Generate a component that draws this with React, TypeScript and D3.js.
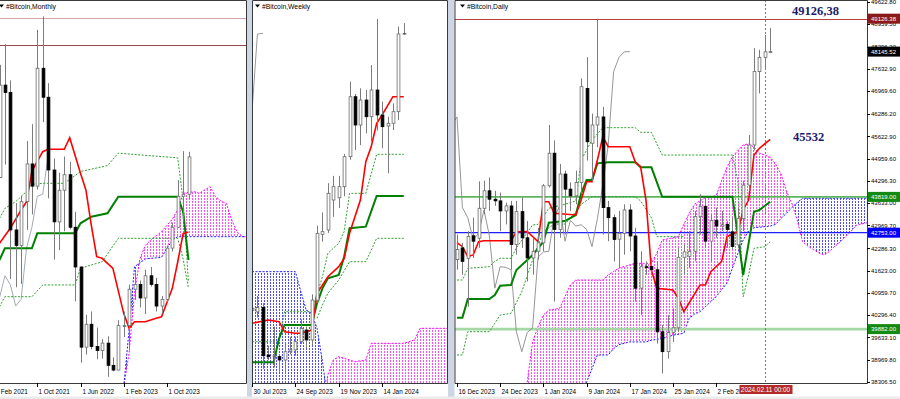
import React from 'react';
import * as d3 from 'd3';

type Pt = [number, number];
type OHLC = [number, number, number, number];

// ---------- Monthly (index 0 = Jan 2021) ----------
const monthlyStart = 1;
const monthlyCandles: OHLC[] = [
  [33100, 58300, 32300, 45100], [45100, 61800, 45000, 58800], [58800, 64900, 47000, 57700],
  [57700, 59500, 30000, 37300], [37300, 41300, 28800, 35000], [35000, 42400, 29300, 41500],
  [41500, 50500, 37300, 47100], [47100, 53000, 39600, 43800], [43800, 67000, 43300, 61300],
  [61300, 69000, 53300, 57000], [57000, 59100, 42000, 46200], [46200, 47900, 32900, 38500],
  [38500, 45800, 34300, 43200], [43200, 48200, 37100, 45500], [45500, 47400, 37400, 37700],
  [37700, 40000, 26700, 31800], [31800, 31900, 17600, 19900], [19900, 24700, 18800, 23300],
  [23300, 25200, 19600, 20000], [20000, 22800, 18100, 19400], [19400, 21100, 18200, 20500],
  [20500, 21500, 15500, 17200], [17200, 18400, 16300, 16500], [16500, 23900, 16500, 23100],
  [23100, 25200, 21400, 23100], [23100, 29200, 19500, 28500], [28500, 31000, 26900, 29200],
  [29200, 29800, 25800, 27200], [27200, 31400, 24800, 30500], [30500, 31800, 28900, 29200],
  [29200, 30200, 25200, 26000], [26000, 27500, 24900, 27000], [27000, 35000, 26500, 34600],
  [34600, 38400, 34100, 37700], [37700, 44700, 37600, 42300], [42300, 49000, 38500, 42600],
  [42600, 48900, 41900, 48145],
];
const monthlyTenkan: Pt[] = [
  [2, 35317], [4, 37544], [6, 40261], [7, 41500], [8, 46000], [10, 48917], [11, 49273], [14, 49273],
  [15, 50996], [17, 45710], [18, 43230], [19, 38000], [20, 33327], [21, 33090], [23, 31604],
  [25, 24923], [26, 22696], [27, 23676], [29, 23676], [31, 24180], [32, 24418], [34, 28634],
  [35, 32537], [36, 36739], [37, 36992],
];
const monthlyKijun: Pt[] = [
  [2, 32837], [3, 34574], [8, 34574], [9, 36802], [16, 36802], [17, 38286], [19, 39270],
  [22, 39770], [24, 42235], [35, 42235], [36, 40000], [37, 32837],
];
const monthlyDotUpper: Pt[] = [
  [2, 39000], [3, 40500], [5, 41500], [7, 43000], [8, 44076], [10, 44224], [14, 44224],
  [17, 45965], [22, 46856], [24, 48697], [35, 48000], [36, 41746], [37, 29500],
];
const monthlyDotLower: Pt[] = [
  [2, 25903], [3, 27388], [8, 27388], [10, 29130], [16, 29130], [17, 31604], [21, 32585],
  [24, 36058], [35, 36058], [36, 33000], [37, 28634],
];
const monthlySpanA: Pt[] = [
  [25, 14000], [26, 19000], [27, 28000], [28, 33000], [29, 35000], [30, 35800], [32, 37040],
  [34, 38900], [35, 40261], [36, 42740], [38, 42978], [39, 42740], [41, 43720], [42, 42235],
  [43, 41600], [44, 41256], [45, 38780], [46, 37000], [47, 36300], [48, 36300],
];
const monthlySpanB: Pt[] = [
  [25, 14000], [26, 22450], [27, 31845], [29, 33000], [32, 33237], [34, 35800], [35, 36300], [48, 36300],
];
const monthlyLevels = [68767, 64760];
const monthlyDates: [number, string][] = [
  [1, '1 Feb 2021'], [9, '1 Oct 2021'], [17, '1 Jun 2022'], [25, '1 Feb 2023'], [33, '1 Oct 2023'],
];

// ---------- Weekly (index 0 = 30 Jul 2023) ----------
const weeklyCandles: OHLC[] = [
  [29200, 29700, 28600, 29350], [29100, 30200, 28700, 29400], [29400, 29700, 25200, 26100],
  [26150, 26800, 25800, 26040], [26040, 28100, 25300, 26100], [26040, 26200, 25000, 25810],
  [25810, 27000, 24900, 26377], [26400, 27400, 26200, 26500], [26500, 27400, 26100, 27060],
  [27060, 28600, 26900, 27977], [27860, 28100, 26600, 27180], [27180, 30300, 26800, 29910],
  [29900, 35000, 29700, 34473], [34400, 35900, 33900, 34585], [34700, 37900, 34500, 37207],
  [36750, 38400, 35600, 37660], [36900, 38400, 36200, 37660], [37660, 39900, 37000, 39710],
  [39710, 44840, 39500, 43813], [43813, 44000, 40169, 41878], [41878, 44390, 40500, 43587],
  [43587, 44271, 41310, 42445], [42445, 45980, 40750, 44271], [44271, 49126, 41500, 42562],
  [42562, 43470, 40285, 41762], [41810, 42445, 38575, 41995], [41995, 43360, 41540, 42788],
  [42788, 48600, 42220, 48100], [48100, 48850, 48035, 48145],
];
const weeklyTenkan: Pt[] = [
  [0, 28318], [3, 28545], [5, 28430], [6, 27745], [8, 27635], [9, 27635], [11, 27860],
  [12, 30370], [14, 31505], [16, 32190], [17, 32760], [18, 34473], [20, 36750], [21, 39370],
  [22, 40400], [23, 41995], [24, 42560], [26, 43813], [28, 43813],
];
const weeklyKijun: Pt[] = [
  [0, 25651], [4, 25651], [5, 27293], [6, 28203], [11, 28203], [12, 29686], [13, 30712],
  [14, 31396], [16, 31620], [17, 32873], [18, 34815], [21, 34925], [23, 37023], [28, 37023],
];
const weeklyDotUpper: Pt[] = [
  [0, 27060], [5, 27060], [6, 29113], [11, 29113], [13, 31505], [14, 33106], [16, 33790],
  [17, 34582], [18, 37207], [21, 37207], [23, 39875], [28, 39875],
];
const weeklyDotLower: Pt[] = [
  [12, 28660], [13, 29570], [14, 30370], [16, 31280], [18, 32530], [21, 32530], [23, 34130], [28, 34130],
];
const weeklySpanA: Pt[] = [
  [0, 22000], [13, 22000], [14, 24800], [15, 25810], [16, 26040], [18, 25810], [19, 25694],
  [21, 25810], [22, 26950], [28, 26950], [30, 27180], [31, 27977], [37, 27977],
];
const weeklySpanB: Pt[] = [
  [0, 31850], [8, 31850], [9, 30500], [10, 29228], [11, 29000], [12, 27977], [13, 25700],
  [14, 23000], [15, 22000], [37, 22000],
];
const weeklyDates: [number, string][] = [
  [0, '30 Jul 2023'], [8, '24 Sep 2023'], [16, '19 Nov 2023'], [24, '14 Jan 2024'],
];

// ---------- Daily (index 0 = 16 Dec 2023) ----------
const dailyCandles: OHLC[] = [
  [41950, 42700, 41650, 42250], [42300, 42450, 41500, 41900], [41990, 42800, 40550, 42640],
  [42660, 43200, 42000, 42500], [42590, 44280, 42300, 43480], [43480, 44300, 43300, 44000],
  [44000, 44400, 43400, 43750], [43750, 44000, 43550, 43700], [43700, 43950, 42800, 43400],
  [43400, 43650, 43000, 43550], [43550, 43700, 41650, 42400], [42400, 43700, 42100, 43380],
  [43380, 43800, 42300, 42600], [42600, 43100, 41300, 42000], [42000, 42600, 41500, 42200],
  [42200, 42900, 41950, 42450], [42450, 44200, 42200, 44150], [44150, 45960, 44100, 45120],
  [45120, 45500, 40700, 42850], [42850, 44800, 42600, 44500], [44500, 44600, 42700, 44050],
  [44050, 44250, 43400, 43850], [43850, 44600, 43600, 44250], [44250, 47350, 43900, 47100],
  [47050, 47980, 44900, 45460], [45415, 46300, 44300, 45960], [45960, 49126, 45300, 46200],
  [46200, 46500, 42700, 43500], [43500, 43700, 42500, 43200], [43200, 43300, 41900, 42550],
  [42560, 43400, 41700, 42735], [42735, 43600, 42100, 43430], [43430, 43600, 42200, 42655],
  [42655, 42900, 40700, 41100], [41100, 42200, 40300, 41740], [41740, 41900, 41500, 41720],
  [41750, 42000, 41500, 41650], [41650, 41900, 39450, 39800], [39800, 40000, 38565, 39210],
  [39210, 40300, 39000, 39780], [39780, 40500, 39500, 39920], [39920, 42300, 39800, 42020],
  [42020, 42400, 41500, 42180], [42050, 42800, 41700, 42200], [42200, 43400, 41900, 43230],
  [43230, 43900, 42700, 43540], [43540, 43800, 42300, 42500], [42500, 43300, 41900, 43120],
  [43120, 43500, 42600, 42950], [42950, 43400, 42800, 42990], [43000, 43100, 42300, 42850],
  [42780, 43200, 42250, 42340], [42390, 43500, 42300, 43170], [43170, 44300, 42800, 44170],
  [44170, 45662, 44000, 45365], [45365, 48250, 45200, 47550], [47550, 48200, 46900, 47975],
  [47975, 48640, 47600, 48140], [48140, 48850, 48100, 48145],
];
const dailyTenkan: Pt[] = [
  [0, 42455], [1, 42336], [2, 42040], [3, 42090], [4, 42485], [5, 42515], [10, 42515],
  [11, 42780], [13, 42790], [15, 42485], [16, 43676], [17, 43676], [18, 43330], [22, 43280],
  [23, 43726], [24, 44270], [25, 44270], [26, 44917], [27, 45612], [28, 45314], [32, 45314],
  [33, 44866], [34, 44717], [35, 43726], [36, 41642], [37, 41097], [40, 41046], [41, 40799],
  [42, 40400], [45, 41195], [46, 41195], [47, 41592], [49, 41890], [50, 42634], [52, 42783],
  [53, 43430], [54, 43726], [55, 45066], [56, 45265], [58, 45534],
];
const dailyKijun: Pt[] = [
  [0, 40223], [1, 40223], [2, 40778], [6, 40778], [7, 40897], [8, 41175], [10, 41195],
  [11, 41642], [13, 41940], [14, 42090], [16, 42485], [17, 43052], [20, 43101], [22, 43280],
  [23, 43925], [24, 44322], [25, 44322], [26, 44818], [28, 44848], [33, 44848], [34, 44700],
  [36, 44700], [38, 43824], [51, 43824], [52, 42700], [53, 41493], [54, 42435], [55, 43378],
  [56, 43428], [58, 43676],
];
const dailyDotUpper: Pt[] = [
  [0, 41344], [1, 41344], [2, 41692], [6, 41741], [7, 41900], [8, 41990], [10, 41990],
  [11, 42300], [14, 42982], [15, 43000], [17, 43480], [20, 43600], [22, 43700], [23, 44917],
  [25, 45513], [27, 45880], [33, 45880], [34, 45742], [36, 45742], [38, 45066], [51, 45066],
  [52, 44322], [53, 40847], [54, 41493], [55, 42288], [57, 42336], [58, 42485],
];
const dailyDotLower: Pt[] = [
  [0, 39111], [1, 39111], [2, 39805], [6, 39805], [7, 40054], [8, 40300], [10, 40352],
  [12, 40995], [14, 41940], [16, 42783], [18, 43010], [20, 43010], [22, 43378], [23, 43600],
  [25, 43824], [33, 43824], [34, 43700], [36, 43200], [37, 42634], [42, 42634],
];
const dailySpanA: Pt[] = [
  [13, 38300], [14, 39500], [15, 39950], [16, 40300], [17, 40450], [19, 40500], [20, 40847],
  [21, 41200], [22, 41344], [27, 41344], [28, 41500], [29, 41600], [30, 41700], [33, 41840],
  [36, 41840], [37, 42139], [38, 42535], [41, 42634], [42, 43000], [43, 43330], [44, 43600],
  [45, 43700], [46, 43800], [48, 43850], [49, 44296], [50, 44700], [51, 45017], [52, 45200],
  [53, 45365], [54, 45400], [55, 45300], [56, 45120], [57, 45066], [58, 45000], [59, 44800],
  [60, 44500], [61, 44000], [62, 43630], [63, 43130], [64, 42485], [65, 42350], [66, 42250],
  [67, 42150], [68, 42090], [69, 42200], [70, 42350], [71, 42485], [72, 42650], [73, 42800],
  [74, 42980], [76, 43050],
];
const dailySpanB: Pt[] = [
  [13, 37500], [23, 37500], [24, 38300], [25, 38700], [26, 39111], [28, 39111], [29, 39300],
  [30, 39420], [31, 39460], [32, 39500], [35, 39500], [36, 39550], [38, 39600], [39, 39650],
  [40, 39700], [42, 39757], [43, 40200], [44, 40330], [45, 40400], [46, 40550], [47, 40700],
  [48, 40850], [49, 41050], [50, 41250], [51, 41700], [52, 42130], [53, 42535], [54, 42800],
  [55, 42900], [58, 42950], [59, 43000], [60, 43180], [61, 43330], [62, 43500], [63, 43650],
  [64, 43780], [76, 43780],
];
const dailyDates: [number, string][] = [
  [0, '16 Dec 2023'], [8, '24 Dec 2023'], [16, '1 Jan 2024'], [24, '9 Jan 2024'],
  [32, '17 Jan 2024'], [40, '25 Jan 2024'], [48, '2 Feb 2024'],
];
const dailyPriceTicks = [
  '49622.80', '48959.50', '48296.20', '47632.90', '46969.60', '46286.20', '45622.90', '44959.60',
  '44296.30', '43633.00', '42969.70', '42286.30', '41623.00', '40959.70', '40296.40', '39633.10',
  '38969.80', '38306.50',
];
// resistance, last price, weekly tenkan, level, weekly dotted
const dailyMarks = [49126.38, 48145.52, 43819.0, 42753.0, 39882.0];
const dailyCursorIndex = 57;
const dailyCursorLabel = '2024.02.11 00:00';
const noteTop = '49126,38';
const noteMid = '45532';

const CHIKOU_SHIFT = 26;
const AXIS_Y = 383;
const FONT = '"Liberation Sans", Arial, sans-serif';

const mX = d3.scaleLinear().domain([0, 37]).range([-11.3, -11.3 + 37 * 5.4]);
const mY = d3.scaleLinear().domain([15500, 69000]).range([376.8, 16.4]);
const wX = d3.scaleLinear().domain([0, 28]).range([252, 252 + 28 * 5.42]);
const wY = d3.scaleLinear().domain([24900, 49126]).range([373.3, 19]);
const dX = d3.scaleLinear().domain([0, 58]).range([457, 457 + 58 * 5.4]);
const dY = d3.scaleLinear().domain([38306.5, 49622.8]).range([382, 2]);

type Sc = d3.ScaleLinear<number, number>;

const lineD = (pts: Pt[], x: Sc, y: Sc) =>
  d3.line<Pt>().x((d) => x(d[0])).y((d) => y(d[1]))(pts) || '';

const chikou = (data: OHLC[], start: number): Pt[] =>
  data.map((c, i) => [start + i - CHIKOU_SHIFT, c[3]] as Pt);

function Candles({ data, start, x, y }: { data: OHLC[]; start: number; x: Sc; y: Sc }) {
  return (
    <g>
      {data.map(([o, h, l, c], i) => {
        const cx = Math.round(x(start + i)) + 0.5;
        const up = c >= o;
        const top = y(Math.max(o, c));
        const bot = y(Math.min(o, c));
        return (
          <g key={i}>
            <line x1={cx} x2={cx} y1={y(h)} y2={y(l)} stroke="#7c7c7c" strokeWidth={1} />
            <rect
              x={cx - 1.4}
              y={top}
              width={2.8}
              height={Math.max(bot - top, 0.8)}
              fill={up ? '#ffffff' : '#000000'}
              stroke={up ? '#6a6a6a' : '#000000'}
              strokeWidth={0.8}
            />
          </g>
        );
      })}
    </g>
  );
}

function Cloud({ id, a, b, x, y }: { id: string; a: Pt[]; b: Pt[]; x: Sc; y: Sc }) {
  const area = (pts: Pt[], y0: number) =>
    d3.area<Pt>().x((d) => x(d[0])).y0(y0).y1((d) => y(d[1]))(pts) || '';
  return (
    <g>
      <defs>
        <clipPath id={`${id}-ba`}><path d={area(a, 600)} /></clipPath>
        <clipPath id={`${id}-aa`}><path d={area(a, -200)} /></clipPath>
        <clipPath id={`${id}-bb`}><path d={area(b, 600)} /></clipPath>
        <clipPath id={`${id}-ab`}><path d={area(b, -200)} /></clipPath>
      </defs>
      <g clipPath={`url(#${id}-ba)`}>
        <rect x={-20} y={-20} width={960} height={440} fill="url(#hatchM)" clipPath={`url(#${id}-ab)`} />
      </g>
      <g clipPath={`url(#${id}-bb)`}>
        <rect x={-20} y={-20} width={960} height={440} fill="url(#hatchB)" clipPath={`url(#${id}-aa)`} />
      </g>
      <path d={lineD(a, x, y)} fill="none" stroke="#ff00ff" strokeWidth={1} strokeDasharray="2 1.5" />
      <path d={lineD(b, x, y)} fill="none" stroke="#1c1cff" strokeWidth={1} strokeDasharray="2 1.5" />
    </g>
  );
}

function Ichimoku({ tenkan, kijun, up, low, x, y }: { tenkan: Pt[]; kijun: Pt[]; up: Pt[]; low: Pt[]; x: Sc; y: Sc }) {
  return (
    <g fill="none">
      <path d={lineD(up, x, y)} stroke="#2ea02e" strokeWidth={1} strokeDasharray="2 1.5" />
      <path d={lineD(low, x, y)} stroke="#2ea02e" strokeWidth={1} strokeDasharray="2 1.5" />
      <path d={lineD(kijun, x, y)} stroke="#008000" strokeWidth={2} />
      <path d={lineD(tenkan, x, y)} stroke="#ff0000" strokeWidth={1.6} />
    </g>
  );
}

function Title({ x, text }: { x: number; text: string }) {
  return (
    <g>
      <path d={`M${x} 4.5 h5 l-2.5 3 z`} fill="#000" />
      <text x={x + 7} y={8.5} fontSize={6.8} fontFamily={FONT} fill="#000">{text}</text>
    </g>
  );
}

function DateAxis({ dates, x }: { dates: [number, string][]; x: Sc }) {
  return (
    <g>
      {dates.map(([i, s]) => {
        const px = Math.round(x(i)) + 0.5;
        return (
          <g key={s}>
            <line x1={px} x2={px} y1={AXIS_Y} y2={AXIS_Y + 4} stroke="#000" />
            <text x={px + 1} y={393.5} fontSize={6.4} fontFamily={FONT} fill="#000">{s}</text>
          </g>
        );
      })}
    </g>
  );
}

export default function App() {
  const markStyle = [
    { bg: '#8b1a1a' }, { bg: '#000000' }, { bg: '#138a13' }, { bg: '#0000ff' }, { bg: '#138a13' },
  ];
  const cursorX = Math.round(dX(dailyCursorIndex)) + 0.5;
  return (
    <svg width={900} height={399} style={{ position: 'absolute', left: 0, top: 0 }} fontFamily={FONT}>
      <defs>
        <pattern id="hatchM" patternUnits="userSpaceOnUse" width={3} height={3}>
          <rect x={0} y={0} width={1} height={2} fill="#ff4dff" />
        </pattern>
        <pattern id="hatchB" patternUnits="userSpaceOnUse" width={3} height={3}>
          <rect x={0} y={0} width={1} height={2} fill="#4d4dff" />
        </pattern>
        <clipPath id="clipP1"><rect x={0} y={0} width={246} height={AXIS_Y} /></clipPath>
        <clipPath id="clipP2"><rect x={252} y={0} width={195} height={AXIS_Y} /></clipPath>
        <clipPath id="clipP3"><rect x={455} y={0} width={412} height={AXIS_Y} /></clipPath>
        <clipPath id="clipA1"><rect x={0} y={AXIS_Y} width={246} height={16} /></clipPath>
        <clipPath id="clipA2"><rect x={252} y={AXIS_Y} width={195} height={16} /></clipPath>
        <clipPath id="clipA3"><rect x={455} y={AXIS_Y} width={412} height={16} /></clipPath>
      </defs>
      <rect x={0} y={0} width={900} height={399} fill="#ffffff" />

      {/* Monthly */}
      <g clipPath="url(#clipP1)">
        <line x1={0} x2={246} y1={Math.round(mY(monthlyLevels[0])) + 0.5} y2={Math.round(mY(monthlyLevels[0])) + 0.5} stroke="#d6a6a6" />
        <line x1={0} x2={246} y1={Math.round(mY(monthlyLevels[1])) + 0.5} y2={Math.round(mY(monthlyLevels[1])) + 0.5} stroke="#9a4a4a" />
        <Cloud id="cm" a={monthlySpanA} b={monthlySpanB} x={mX} y={mY} />
        <path d={lineD(chikou(monthlyCandles, monthlyStart), mX, mY)} fill="none" stroke="#a4abb8" strokeWidth={1} />
        <Ichimoku tenkan={monthlyTenkan} kijun={monthlyKijun} up={monthlyDotUpper} low={monthlyDotLower} x={mX} y={mY} />
        <Candles data={monthlyCandles} start={monthlyStart} x={mX} y={mY} />
        <Title x={-1} text="#Bitcoin,Monthly" />
      </g>

      {/* Weekly */}
      <g clipPath="url(#clipP2)">
        <Cloud id="cw" a={weeklySpanA} b={weeklySpanB} x={wX} y={wY} />
        <path d={lineD(chikou(weeklyCandles, 0), wX, wY)} fill="none" stroke="#9a9a9a" strokeWidth={1} />
        <Ichimoku tenkan={weeklyTenkan} kijun={weeklyKijun} up={weeklyDotUpper} low={weeklyDotLower} x={wX} y={wY} />
        <Candles data={weeklyCandles} start={0} x={wX} y={wY} />
        <Title x={255} text="#Bitcoin,Weekly" />
      </g>

      {/* Daily */}
      <g clipPath="url(#clipP3)">
        <Cloud id="cd" a={dailySpanA} b={dailySpanB} x={dX} y={dY} />
        <line x1={455} x2={867} y1={Math.round(dY(dailyMarks[0])) + 0.5} y2={Math.round(dY(dailyMarks[0])) + 0.5} stroke="#b04040" />
        <line x1={455} x2={867} y1={dY(dailyMarks[2])} y2={dY(dailyMarks[2])} stroke="#5cb65c" strokeWidth={1.6} />
        <line x1={455} x2={867} y1={dY(dailyMarks[3])} y2={dY(dailyMarks[3])} stroke="#1f1fff" strokeWidth={1.3} />
        <line x1={455} x2={867} y1={dY(dailyMarks[4])} y2={dY(dailyMarks[4])} stroke="#a6d8a6" strokeWidth={2.6} />
        <line x1={cursorX} x2={cursorX} y1={0} y2={AXIS_Y} stroke="#c85a5a" strokeDasharray="2 2" />
        <path d={lineD(chikou(dailyCandles, 0), dX, dY)} fill="none" stroke="#8a8a8a" strokeWidth={0.9} />
        <Ichimoku tenkan={dailyTenkan} kijun={dailyKijun} up={dailyDotUpper} low={dailyDotLower} x={dX} y={dY} />
        <Candles data={dailyCandles} start={0} x={dX} y={dY} />
        <Title x={460} text="#Bitcoin,Daily" />
        <text x={792} y={14.5} fontSize={12.5} fontWeight="bold" fontFamily='"Liberation Serif", "Times New Roman", serif' fill="#1b1b6b">{noteTop}</text>
        <text x={793} y={141} fontSize={12.5} fontWeight="bold" fontFamily='"Liberation Serif", "Times New Roman", serif' fill="#1b1b6b">{noteMid}</text>
      </g>

      {/* panel frames and gaps */}
      <rect x={247} y={0} width={5} height={399} fill="#cdd6e5" />
      <rect x={448} y={0} width={6.5} height={399} fill="#cdd6e5" />
      <g fill="none" stroke="#3a3a3a" strokeWidth={1}>
        <path d={`M0 0.5 H246.5 V${AXIS_Y + 0.5} H0`} />
        <path d={`M252.5 0.5 H447.5 V${AXIS_Y + 0.5} H252.5 Z`} />
        <path d={`M455 0.5 H867.5 V${AXIS_Y + 0.5} H455 Z`} />
      </g>

      {/* date axes */}
      <g clipPath="url(#clipA1)"><DateAxis dates={monthlyDates} x={mX} /></g>
      <g clipPath="url(#clipA2)"><DateAxis dates={weeklyDates} x={wX} /></g>
      <g clipPath="url(#clipA3)">
        <DateAxis dates={dailyDates} x={dX} />
        <rect x={cursorX - 26} y={385} width={53} height={9} fill="#b22a2a" />
        <text x={cursorX} y={392.2} fontSize={6.4} fill="#fff" textAnchor="middle">{dailyCursorLabel}</text>
      </g>

      {/* daily price axis */}
      <g>
        {dailyPriceTicks.map((s) => {
          const py = dY(parseFloat(s));
          return (
            <g key={s}>
              <line x1={867} x2={870} y1={Math.round(py) + 0.5} y2={Math.round(py) + 0.5} stroke="#000" />
              <text x={871} y={py + 2.2} fontSize={6} fill="#000">{s}</text>
            </g>
          );
        })}
        {dailyMarks.map((v, i) => {
          const py = dY(v);
          return (
            <g key={i}>
              <rect x={868} y={py - 5} width={32} height={10} fill={markStyle[i].bg} />
              <text x={871} y={py + 2.2} fontSize={6} fill="#fff">{v.toFixed(2)}</text>
            </g>
          );
        })}
      </g>
      <rect x={0} y={396.5} width={900} height={2.5} fill="#ebebeb" />
    </svg>
  );
}
